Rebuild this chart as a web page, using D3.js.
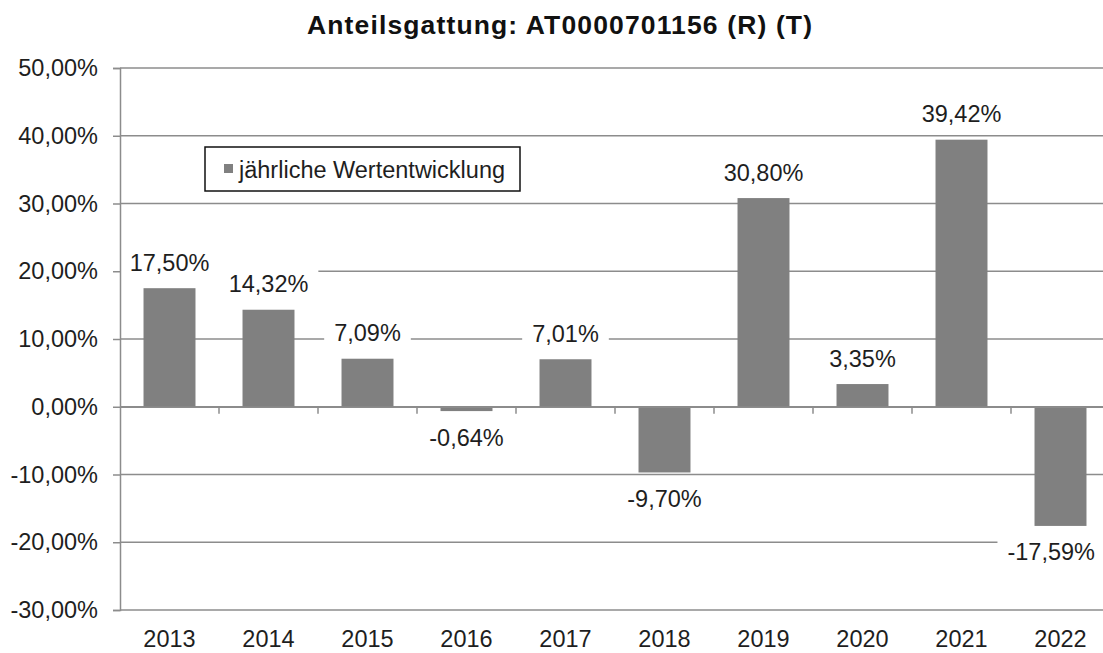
<!DOCTYPE html>
<html><head><meta charset="utf-8">
<script src="https://cdn.jsdelivr.net/npm/d3@7"></script>
<style>
body{margin:0;background:#fff;}
svg{display:block;font-family:"Liberation Sans",Arial,sans-serif;}
</style></head>
<body><svg id="c" width="1103" height="653"></svg>
<script>
const title = "Anteilsgattung: AT0000701156 (R) (T)";
const years = ["2013","2014","2015","2016","2017","2018","2019","2020","2021","2022"];
const values = [17.50, 14.32, 7.09, -0.64, 7.01, -9.70, 30.80, 3.35, 39.42, -17.59];
const yTicks = [-30,-20,-10,0,10,20,30,40,50];
const seriesName = "jährliche Wertentwicklung";

const svg = d3.select("#c");
const pLeft = 120, pRight = 1110, pTop = 68, pBottom = 610;
const fmt = v => v.toFixed(2).replace(".", ",") + "%";
const textColor = "#1e1e1e";
const gridColor = "#8c8c8c";
const fs = 23.5;

const x = d3.scaleBand().domain(years).range([pLeft, pRight]).paddingInner(0.475).paddingOuter(0.2375);
const y = d3.scaleLinear().domain([-30, 50]).range([pBottom, pTop]);

// title
svg.append("text").attr("x", 559.5).attr("y", 34).attr("text-anchor", "middle")
  .attr("font-weight", "bold").attr("font-size", 26.5).attr("fill", "#111")
  .attr("textLength", 505).attr("lengthAdjust", "spacing").text(title);

// gridlines
svg.append("g").selectAll("line").data(yTicks).join("line")
  .attr("x1", pLeft).attr("x2", pRight)
  .attr("y1", d => y(d)).attr("y2", d => y(d))
  .attr("stroke", gridColor).attr("stroke-width", 1.5);

// bars
svg.append("g").selectAll("rect").data(values).join("rect")
  .attr("x", (d, i) => x(years[i]))
  .attr("width", x.bandwidth())
  .attr("y", d => y(Math.max(0, d)))
  .attr("height", d => Math.abs(y(d) - y(0)))
  .attr("fill", "#808080");

// x axis at zero
const xAxis = d3.axisBottom(x).tickSize(0).tickFormat("");
const gx = svg.append("g").attr("transform", `translate(0,${y(0)})`).call(xAxis);
gx.select(".domain").attr("stroke", gridColor).attr("stroke-width", 1.5);
// tick marks between categories
const step = x.step();
svg.append("g").selectAll("line").data(years.slice(1)).join("line")
  .attr("x1", d => x(d) - x.paddingInner() * step / 2)
  .attr("x2", d => x(d) - x.paddingInner() * step / 2)
  .attr("y1", y(0)).attr("y2", y(0) + 7)
  .attr("stroke", gridColor).attr("stroke-width", 1.5);

// category labels at bottom
svg.append("g").selectAll("text").data(years).join("text")
  .attr("x", d => x(d) + x.bandwidth() / 2).attr("y", 647)
  .attr("text-anchor", "middle").attr("font-size", fs).attr("fill", textColor).text(d => d);

// data labels with white background
const lg = svg.append("g").selectAll("g").data(values).join("g");
lg.append("rect").attr("fill", "#fff");
lg.append("text").attr("text-anchor", "middle").attr("dy", "0.36em")
  .attr("font-size", fs).attr("fill", textColor).text(d => fmt(d));
lg.each(function (d, i) {
  const g = d3.select(this);
  const tw = g.select("text").node().getComputedTextLength();
  const w = tw + 20;
  let cx = x(years[i]) + x.bandwidth() / 2;
  cx = Math.min(cx, 1095 - tw / 2); // keep label inside chart area
  const cy = d >= 0 ? y(d) - 26 : y(d) + 26;
  g.attr("transform", `translate(${cx},${cy})`);
  g.select("rect").attr("x", -w / 2).attr("y", -15).attr("width", w).attr("height", 30);
});

// y axis (drawn on top)
const yAxis = d3.axisLeft(y).tickValues(yTicks).tickSize(7).tickPadding(15)
  .tickFormat(d => d.toFixed(2).replace(".", ",") + "%");
const gy = svg.append("g").attr("transform", `translate(${pLeft},0)`).call(yAxis);
gy.select(".domain").attr("stroke", gridColor).attr("stroke-width", 1.5);
gy.selectAll(".tick line").attr("stroke", gridColor).attr("stroke-width", 1.5);
gy.selectAll(".tick text").attr("font-size", fs).attr("fill", textColor)
  .attr("font-family", "Liberation Sans, Arial, sans-serif");

// legend
const leg = svg.append("g");
leg.append("rect").attr("x", 205).attr("y", 147).attr("width", 315).attr("height", 44)
  .attr("fill", "#fff").attr("stroke", "#111").attr("stroke-width", 1.5);
leg.append("rect").attr("x", 224).attr("y", 164).attr("width", 9).attr("height", 9).attr("fill", "#808080");
leg.append("text").attr("x", 239).attr("y", 177.5).attr("font-size", fs).attr("fill", textColor).text(seriesName);
</script></body></html>
